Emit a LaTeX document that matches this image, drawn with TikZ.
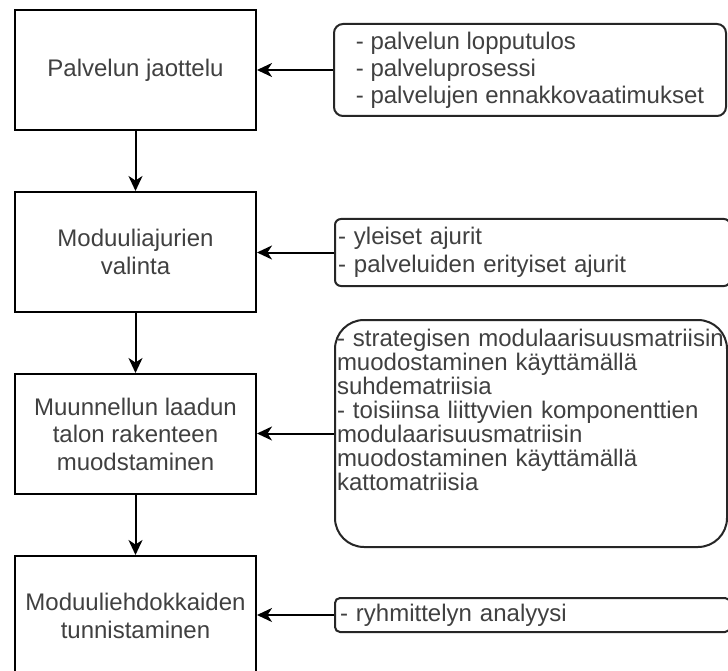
\documentclass[tikz,border=0pt]{standalone}
\usepackage{fontspec}
\setmainfont{Liberation Sans}
\usetikzlibrary{arrows.meta}
\begin{document}
\begin{tikzpicture}[x=1pt,y=-1pt,
  txt/.style={text=black!75, font=\fontsize{24}{#1}\selectfont},
  stage/.style={draw=black, line width=2pt, minimum width=241pt,
    minimum height=120pt, inner sep=0pt, align=center, txt=27.5},
  note/.style={draw=black!85, line width=2pt, inner sep=0pt, align=left},
  arr/.style={line width=2pt, draw=black,
    -{Stealth[length=15pt,width=14pt,inset=4.5pt]}}
]
\clip (0,0) rectangle (728,671);
\fill[white] (0,0) rectangle (728,671);

% process steps (left column)
\node[stage] (b1) at (135.5,70)  {Palvelun jaottelu};
\node[stage] (b2) at (135.5,252) {Moduuliajurien\\valinta};
\node[stage] (b3) at (135.5,434) {Muunnellun laadun\\talon rakenteen\\muodstaminen};
\node[stage] (b4) at (135.5,616) {Moduuliehdokkaiden\\tunnistaminen};

% inputs (right column)
\node[note, txt=27, rounded corners=9pt, minimum width=392pt, minimum height=92pt]
  (r1) at (530,70)
  {- palvelun lopputulos\\- palveluprosessi\\- palvelujen ennakkovaatimukset};
\node[note, txt=28, rounded corners=6pt, minimum height=67pt,
  inner xsep=3pt, text width=389pt]
  (r2) at (532.5,252.5)
  {- yleiset ajurit\\- palveluiden erityiset ajurit};
% two empty trailing lines keep the list in the upper part of the box
\node[note, txt=24, rounded corners=29pt, minimum height=227pt,
  inner xsep=2pt, text width=388pt]
  (r3) at (531,433.5)
  {- strategisen modulaarisuusmatriisin\\muodostaminen käyttämällä\\suhdematriisia\\- toisiinsa liittyvien komponenttien\\modulaarisuusmatriisin\\muodostaminen käyttämällä\\kattomatriisia\\\mbox{}\\\mbox{}};
\node[note, txt=27, rounded corners=5pt, minimum height=34pt,
  inner xsep=5pt, text width=385pt]
  (r4) at (532.5,615)
  {- ryhmittelyn analyysi};

% flow between steps
\draw[arr] (b1.south) -- (b2.north);
\draw[arr] (b2.south) -- (b3.north);
\draw[arr] (b3.south) -- (b4.north);

% inputs feeding each step
\draw[arr] (r1.west) -- (r1.west -| b1.east);
\draw[arr] (r2.west) -- (r2.west -| b2.east);
\draw[arr] (r3.west) -- (r3.west -| b3.east);
\draw[arr] (r4.west) -- (r4.west -| b4.east);
\end{tikzpicture}
\end{document}
